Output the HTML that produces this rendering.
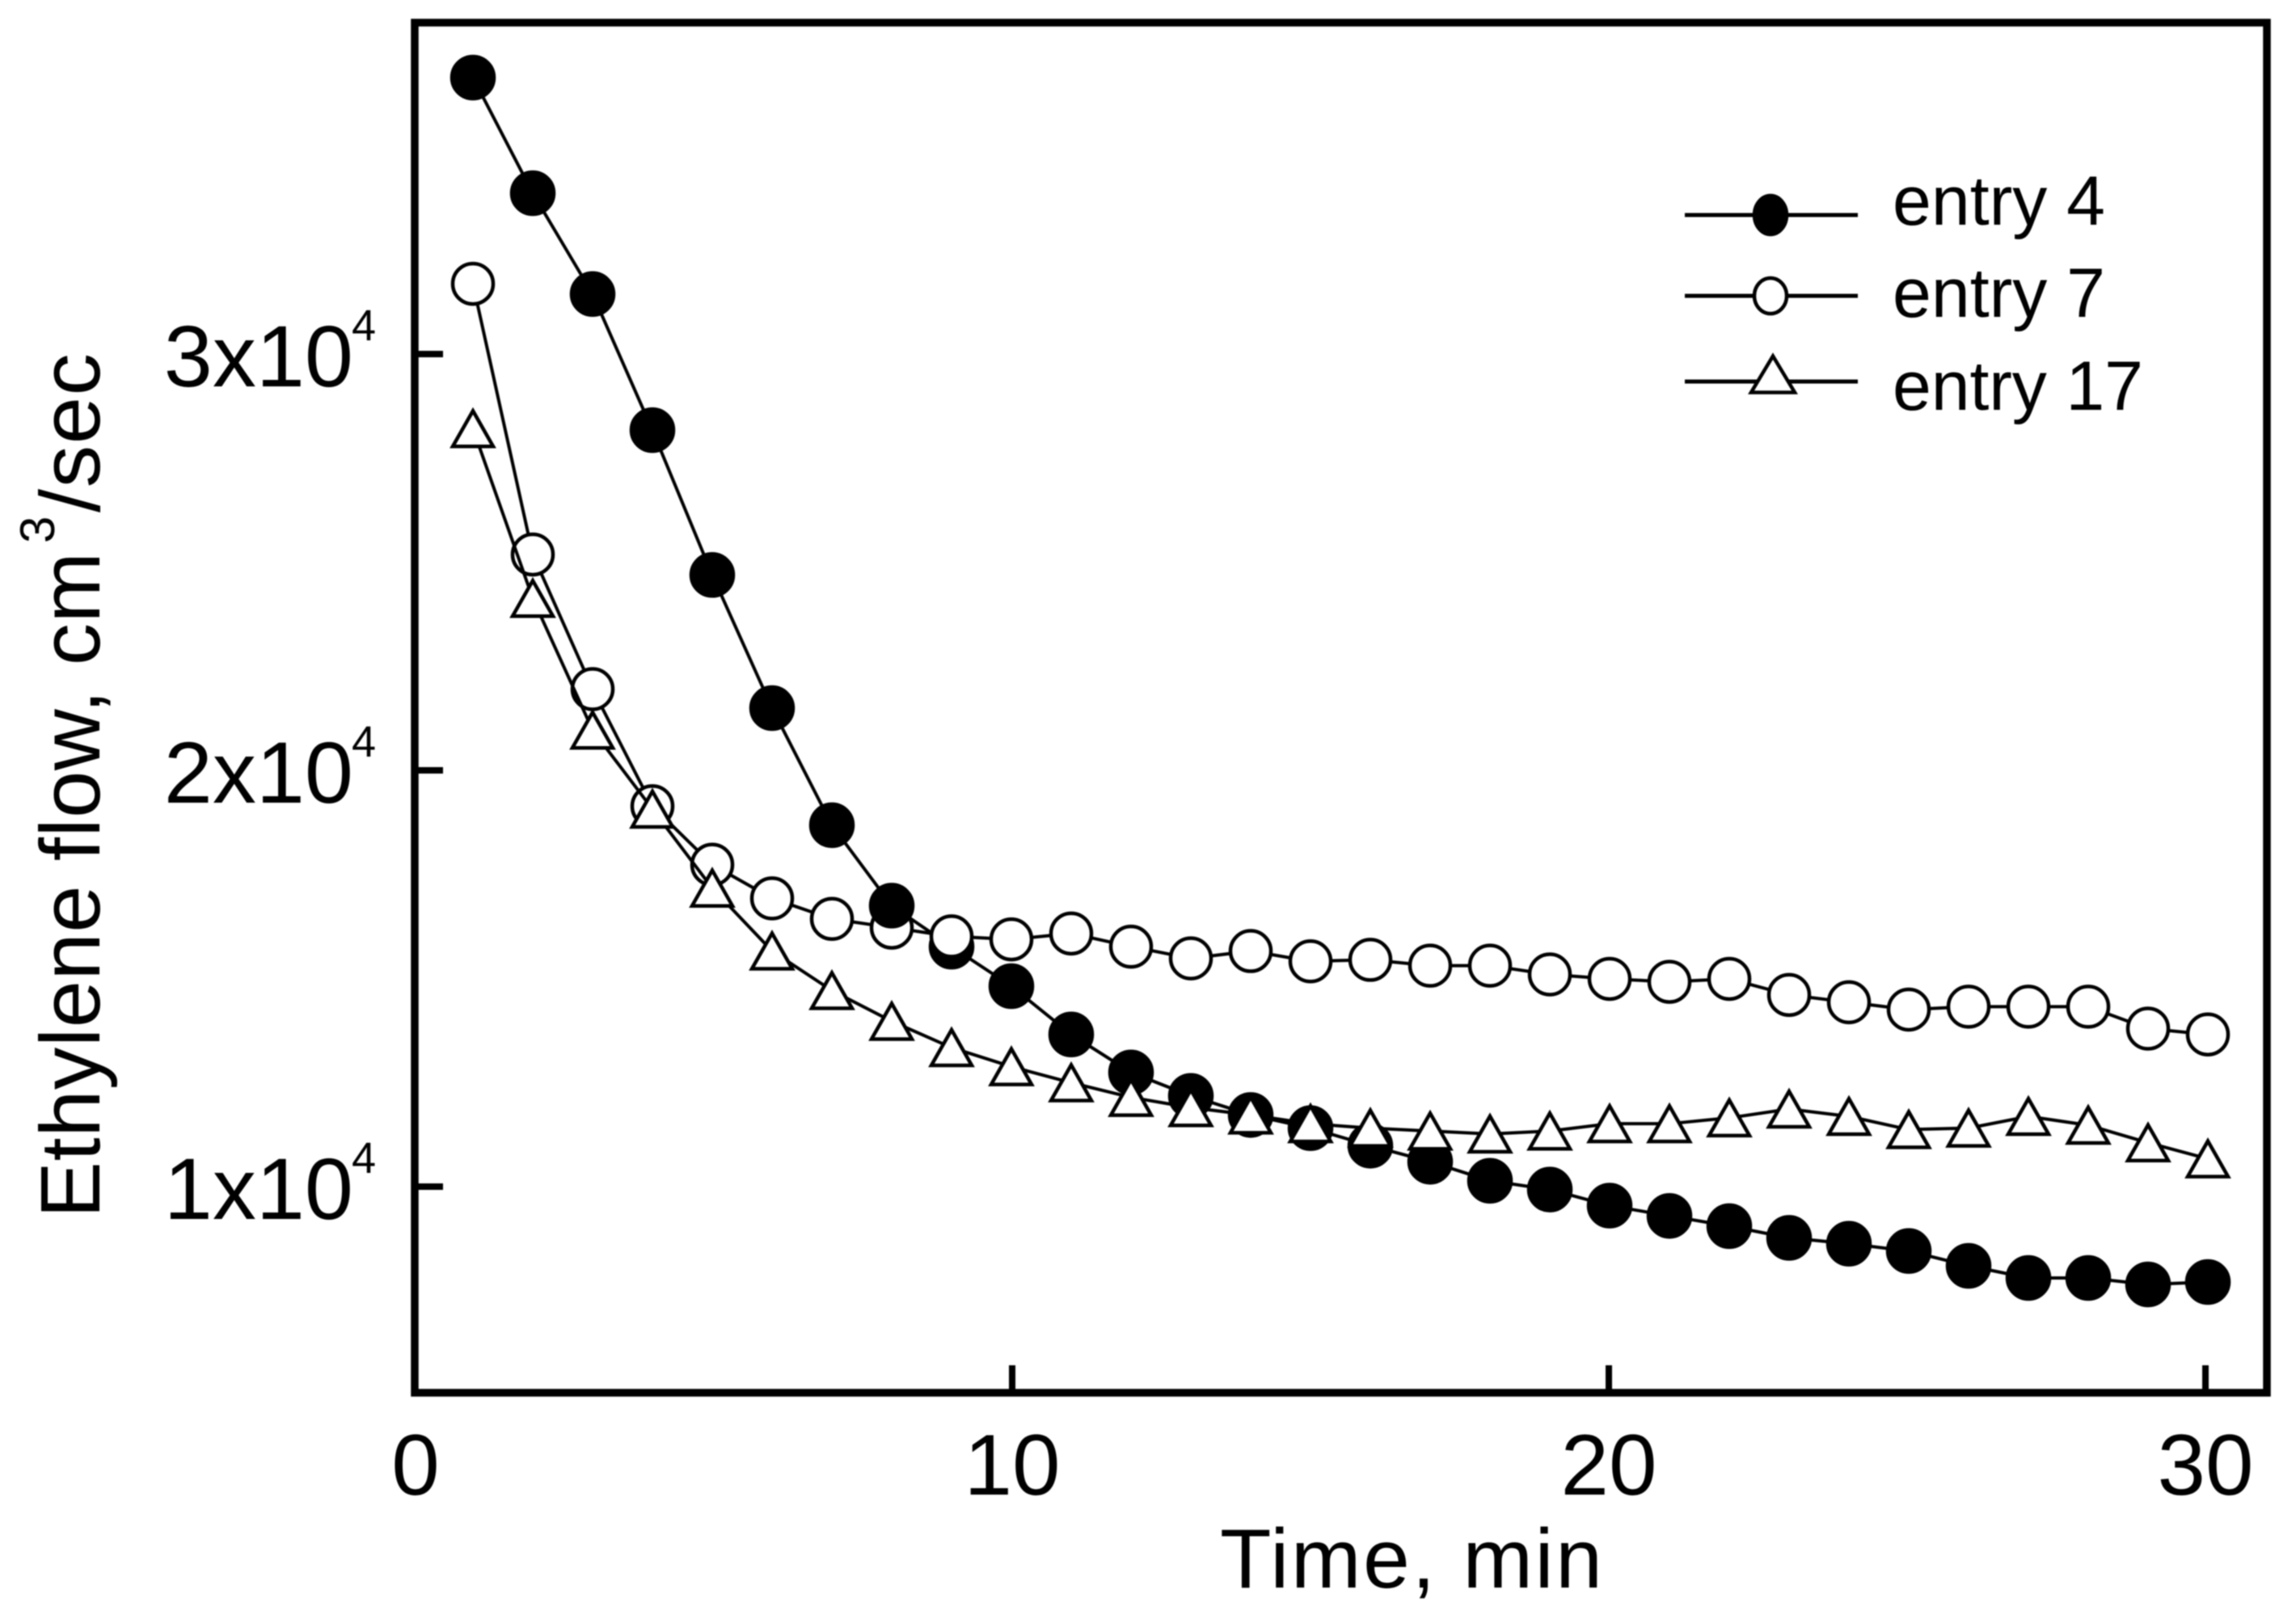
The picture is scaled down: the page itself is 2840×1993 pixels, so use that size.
<!DOCTYPE html>
<html lang="en">
<head>
<meta charset="utf-8">
<title>Ethylene flow over time</title>
<style>
  html, body { margin: 0; padding: 0; background: #fff; }
  body { width: 2840px; height: 1993px; overflow: hidden; }
  svg { display: block; filter: blur(0.8px); }
  text { font-family: "Liberation Sans", sans-serif; fill: #000; }
</style>
</head>
<body>
<svg id="chart" xmlns="http://www.w3.org/2000/svg" width="2840" height="1993" viewBox="0 0 2840 1993">
  <rect x="0" y="0" width="2840" height="1993" fill="#fff"/>
  <text transform="translate(123 1507) rotate(-90)" font-size="105"><tspan x="0" y="0" textLength="824" lengthAdjust="spacing">Ethylene flow, cm</tspan><tspan x="835" y="-56" font-size="60">3</tspan><tspan x="873" y="0" textLength="197" lengthAdjust="spacing">/sec</tspan></text>
  <text x="1509" y="1964" font-size="104" textLength="473" lengthAdjust="spacing">Time, min</text>
</svg>
<script>
const times = [1,2,3,4,5,6,7,8,9,10,11,12,13,14,15,16,17,18,19,20,21,22,23,24,25,26,27,28,29,30];
const entry4 = [36641,33864,31441,28172,24693,21494,18682,16749,15765,14816,13656,12742,12179,11722,11406,10984,10598,10141,9930,9543,9297,9051,8770,8629,8453,8097,7806,7806,7650,7709];
const entry7 = [31688,25185,21951,19139,17733,16925,16432,16222,16011,15940,16081,15765,15483,15659,15413,15448,15308,15308,15097,14991,14921,14991,14605,14429,14253,14323,14323,14323,13796,13656];
const entry17 = [28208,24130,20967,19069,17171,15659,14710,13972,13339,12882,12496,12144,11898,11722,11511,11406,11336,11265,11336,11511,11511,11652,11863,11687,11371,11406,11687,11476,11054,10668];
const xTicks = [0,10,20,30];
const yTicks = [10000,20000,30000];
const yTickLabels = ["1x10","2x10","3x10"];
const legendLabels = ["entry 4","entry 7","entry 17"];

const SVG_NS = "http://www.w3.org/2000/svg";
const root = document.getElementById("chart");
const FRAME = { left: 513, right: 2804, top: 28, bottom: 1723 };
function xScale(t) { return 511 + t * 74; }
function xTickScale(t) { return 514 + t * 73.8; }
function yScale(v) { return 1468 - (v - 10000) * 0.0515; }
function create(tag, attrs, parent) {
  const el = document.createElementNS(SVG_NS, tag);
  for (const k in attrs) el.setAttribute(k, attrs[k]);
  (parent || root).appendChild(el);
  return el;
}
function drawCircle(parent, cx, cy, rx, ry, fill) {
  return create("ellipse", { cx: cx, cy: cy, rx: rx, ry: ry, fill: fill, stroke: "#000", "stroke-width": 4.5 }, parent);
}
function drawTriangle(parent, cx, cy, hw, h) {
  const pts = [cx + "," + (cy - h / 2), (cx + hw) + "," + (cy + h / 2), (cx - hw) + "," + (cy + h / 2)].join(" ");
  return create("polygon", { points: pts, fill: "#fff", stroke: "#000", "stroke-width": 4.5, "stroke-linejoin": "miter" }, parent);
}

/* Frame */
const frame = create("rect", { x: FRAME.left, y: FRAME.top, width: FRAME.right - FRAME.left, height: FRAME.bottom - FRAME.top, fill: "none", stroke: "#000", "stroke-width": 9.5 });



/* X axis ticks and labels */
xTicks.forEach(function (t) {
  const px = xTickScale(t);
  if (t > 0) {
    const tick = create("line", { x1: px, x2: px, y1: FRAME.bottom, y2: 1689, stroke: "#000", "stroke-width": 8 });
    
    
  }
  const label = create("text", { x: px, y: 1849, "font-size": 107, "text-anchor": "middle" });
  label.textContent = String(t);
  
  
});

/* Y axis ticks and labels */
yTicks.forEach(function (v, i) {
  const py = yScale(v);
  const tick = create("line", { x1: FRAME.left, x2: 548, y1: py, y2: py, stroke: "#000", "stroke-width": 8 });
  
  
  const label = create("text", { x: 437, y: py + 40, "font-size": 108, "text-anchor": "end" });
  label.textContent = yTickLabels[i];
  
  
  const exp = create("text", { x: 465, y: py - 17, "font-size": 54, "text-anchor": "end" });
  exp.textContent = "4";
  
  
});

/* Series */
function linePoints(values) {
  return values.map(function (v, i) { return xScale(times[i]) + "," + yScale(v); }).join(" ");
}
const g4 = create("g", {});


const line4 = create("polyline", { points: linePoints(entry4), fill: "none", stroke: "#000", "stroke-width": 4 }, g4);



const g7 = create("g", {});


const g4Front = create("g", {});



entry4.forEach(function (v, i) {
  const m = drawCircle(times[i] <= 8 ? g4Front : g4, xScale(times[i]), yScale(v), 26, 26, "#000");
  
  
});

const line7 = create("polyline", { points: linePoints(entry7), fill: "none", stroke: "#000", "stroke-width": 4 }, g7);


entry7.forEach(function (v, i) {
  const m = drawCircle(g7, xScale(times[i]), yScale(v), 25, 25, "#fff");
  
  
});

const g17 = create("g", {});


const line17 = create("polyline", { points: linePoints(entry17), fill: "none", stroke: "#000", "stroke-width": 4 }, g17);


entry17.forEach(function (v, i) {
  const m = drawTriangle(g17, xScale(times[i]), yScale(v), 25, 44);
  
  
});

/* Legend */
const legend = create("g", {});


const legendLineY = [266, 366, 472];
const legendTextY = [278, 392, 507];
const legendTextW = [263, 263, 310];
legendLabels.forEach(function (name, i) {
  const entry = create("g", {}, legend);
  
  
  const swatch = create("line", { x1: 2084, x2: 2298, y1: legendLineY[i], y2: legendLineY[i], stroke: "#000", "stroke-width": 5 }, entry);
  
  
  let marker;
  if (i === 0) marker = drawCircle(entry, 2190, legendLineY[i], 20, 24, "#000");
  if (i === 1) marker = drawCircle(entry, 2190, legendLineY[i], 20, 22, "#fff");
  if (i === 2) marker = drawTriangle(entry, 2193, legendLineY[i] - 9, 27, 45);
  
  
  const label = create("text", { x: 2341, y: legendTextY[i], "font-size": 86, textLength: legendTextW[i], lengthAdjust: "spacing" }, entry);
  label.textContent = name;
  
  
});
</script>
</body>
</html>
